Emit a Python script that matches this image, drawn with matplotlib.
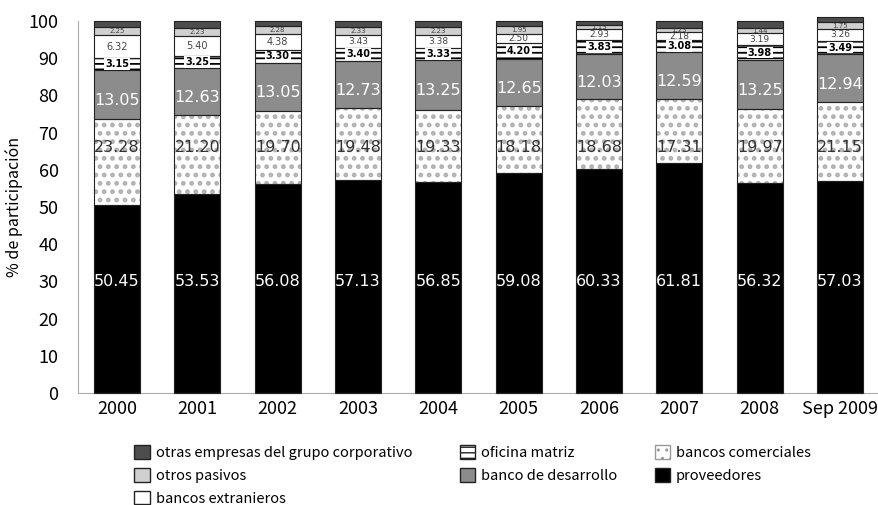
import matplotlib
matplotlib.use("Agg")
import matplotlib.pyplot as plt
from matplotlib.patches import Patch
import numpy as np

categories = ["2000", "2001", "2002", "2003", "2004", "2005", "2006", "2007", "2008", "Sep 2009"]
proveedores = [50.45, 53.53, 56.08, 57.13, 56.85, 59.08, 60.33, 61.81, 56.32, 57.03]
bancos_comerciales = [23.28, 21.20, 19.70, 19.48, 19.33, 18.18, 18.68, 17.31, 19.97, 21.15]
banco_desarrollo = [13.05, 12.63, 13.05, 12.73, 13.25, 12.65, 12.03, 12.59, 13.25, 12.94]
oficina_matriz = [3.15, 3.25, 3.30, 3.40, 3.33, 4.20, 3.83, 3.08, 3.98, 3.49]
bancos_extranjeros = [6.32, 5.40, 4.38, 3.43, 3.38, 2.50, 2.93, 2.18, 3.19, 3.26]
otros_pasivos = [2.25, 2.23, 2.28, 2.33, 2.23, 1.95, 1.13, 1.23, 1.44, 1.75]
otras_empresas = [1.50, 1.76, 1.21, 1.50, 1.63, 1.44, 1.07, 1.80, 1.85, 1.40]

NARROW = ["Noto Sans CJK SC", "DejaVu Sans"]
plt.rcParams["font.family"] = ["DejaVu Sans"]

fig = plt.figure(figsize=(8.79, 5.05), dpi=100)
ax = fig.add_axes([0.0887, 0.2218, 0.9113, 0.7366])

x = np.arange(len(categories))
w = 0.575
series = [
    ("proveedores", proveedores, "#000000", None),
    ("bancos comerciales", bancos_comerciales, "#ffffff", "dots"),
    ("banco de desarrollo", banco_desarrollo, "#8c8c8c", None),
    ("oficina matriz", oficina_matriz, "#ffffff", "lines"),
    ("bancos extranieros", bancos_extranjeros, "#ffffff", None),
    ("otros pasivos", otros_pasivos, "#d0d0d0", None),
    ("otras empresas del grupo corporativo", otras_empresas, "#4d4d4d", None),
]

bottom = np.zeros(len(categories))
bottoms = {}
for name, vals, col, pat in series:
    vals = np.array(vals)
    bottoms[name] = bottom.copy()
    if pat == "dots":
        with plt.rc_context({"hatch.linewidth": 2.2}):
            ax.bar(x, vals, w, bottom=bottom, color="white", edgecolor="#b0b0b0",
                   hatch="..", linewidth=0, clip_on=False, zorder=2)
    elif pat == "lines":
        with plt.rc_context({"hatch.linewidth": 1.3}):
            ax.bar(x, vals, w, bottom=bottom, color="white", edgecolor="#000000",
                   hatch="---", linewidth=0, clip_on=False, zorder=2)
    else:
        ax.bar(x, vals, w, bottom=bottom, color=col, linewidth=0, clip_on=False, zorder=2)
    ax.bar(x, vals, w, bottom=bottom, fill=False, edgecolor="#222222", linewidth=0.8,
           clip_on=False, zorder=3)
    bottom = bottom + vals

for i in range(len(categories)):
    ax.text(x[i], 30, f"{proveedores[i]:.2f}", ha="center", va="center",
            color="white", fontsize=11.5, zorder=5)
    ax.text(x[i], 66, f"{bancos_comerciales[i]:.2f}", ha="center", va="center",
            color="#333333", fontsize=11.5, zorder=5)
    b = bottoms["banco de desarrollo"][i] + banco_desarrollo[i] / 2 - 1.6
    ax.text(x[i], b, f"{banco_desarrollo[i]:.2f}", ha="center", va="center",
            color="white", fontsize=11.5, zorder=5)
    b = bottoms["oficina matriz"][i] + oficina_matriz[i] / 2
    ax.text(x[i], b, f"{oficina_matriz[i]:.2f}", ha="center", va="center",
            color="black", fontsize=7, fontweight="bold", zorder=5,
            bbox=dict(facecolor="white", edgecolor="none", pad=0.6))
    b = bottoms["bancos extranieros"][i] + bancos_extranjeros[i] / 2
    ax.text(x[i], b, f"{bancos_extranjeros[i]:.2f}", ha="center", va="center",
            color="#444444", fontsize=7 if bancos_extranjeros[i] > 3.5 else 6.5, zorder=5)
    b = bottoms["otros pasivos"][i] + otros_pasivos[i] / 2
    ax.text(x[i], b, f"{otros_pasivos[i]:.2f}", ha="center", va="center",
            color="#444444", fontsize=5, zorder=5)

ax.set_xlim(-0.486, len(categories) - 0.514)
ax.set_ylim(0, 100)
ax.set_yticks(np.arange(0, 101, 10))
ax.set_xticks(x)
ax.set_xticklabels(categories, fontsize=13, family=NARROW)
for lab in ax.get_yticklabels():
    lab.set_fontsize(13)
    lab.set_family(NARROW)
ax.tick_params(length=0, pad=14)
ax.tick_params(axis="x", pad=5)
ax.set_ylabel("% de participación", fontsize=11.5, family=NARROW, labelpad=4)
for s in ["top", "right"]:
    ax.spines[s].set_visible(False)
ax.spines["left"].set_color("#aaaaaa")
ax.spines["bottom"].set_color("#aaaaaa")

col1 = [
    Patch(facecolor="#4d4d4d", edgecolor="#222222", label="otras empresas del grupo corporativo"),
    Patch(facecolor="#d0d0d0", edgecolor="#222222", label="otros pasivos"),
    Patch(facecolor="white", edgecolor="#222222", label="bancos extranieros"),
]
col2 = [
    Patch(facecolor="white", edgecolor="#222222", hatch="---", label="oficina matriz"),
    Patch(facecolor="#8c8c8c", edgecolor="#222222", label="banco de desarrollo"),
]
col3 = [
    Patch(facecolor="white", edgecolor="#999999", hatch="..", label="bancos comerciales"),
    Patch(facecolor="#000000", edgecolor="#222222", label="proveedores"),
]
for handles, xa in [(col1, 0.153), (col2, 0.523), (col3, 0.745)]:
    fig.legend(handles=handles, loc="upper left", bbox_to_anchor=(xa, 0.118),
               frameon=False, prop={"family": NARROW, "size": 10.5},
               handlelength=1.05, handleheight=1.05, handletextpad=0.4,
               labelspacing=0.55, borderaxespad=0, borderpad=0)

fig.savefig("out.png", dpi=100)
